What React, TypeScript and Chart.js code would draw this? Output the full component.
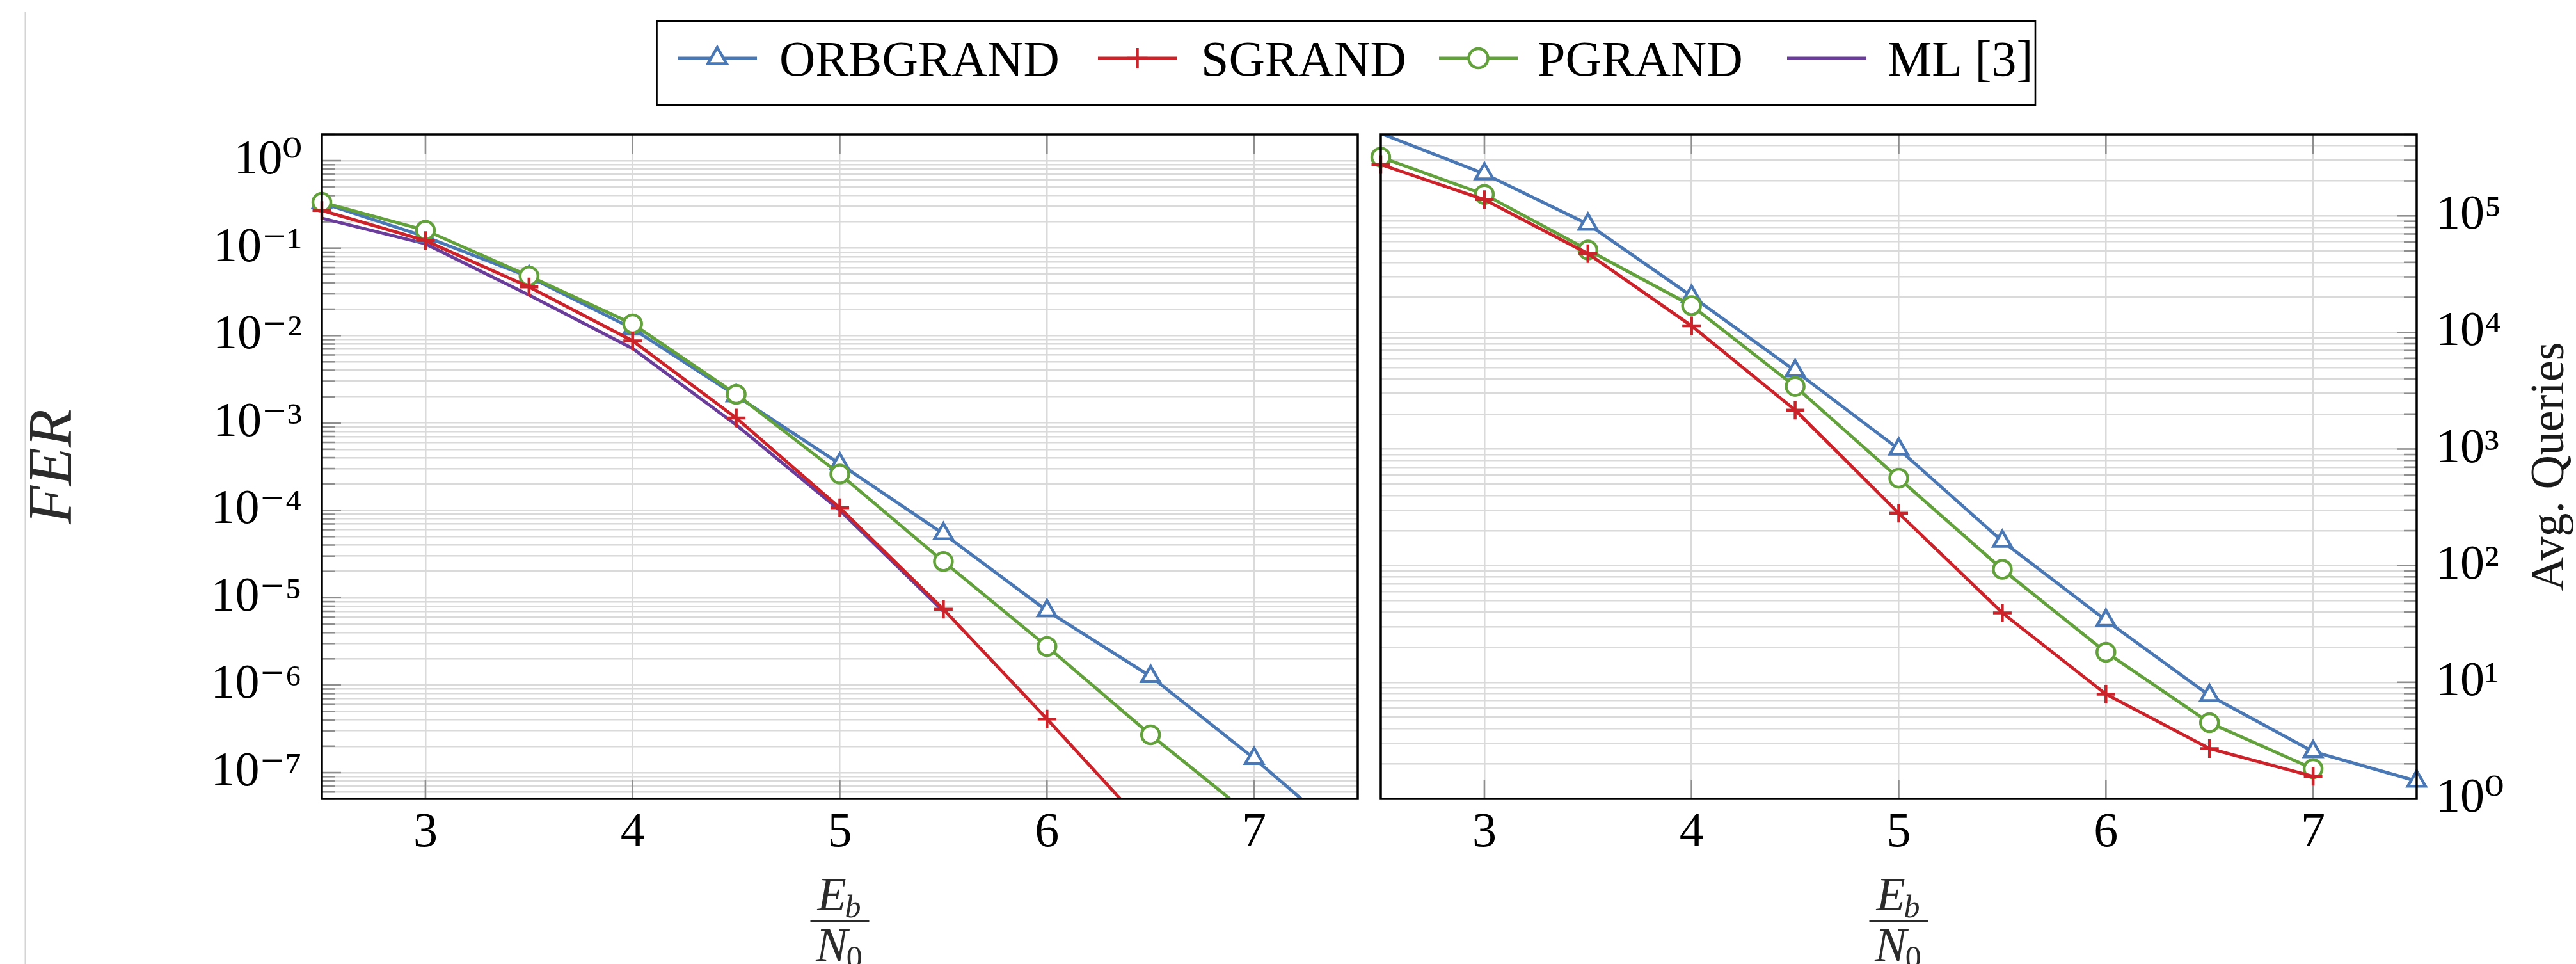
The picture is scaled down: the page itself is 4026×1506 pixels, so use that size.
import React, { useEffect, useRef } from 'react';
import { Chart, registerables } from 'chart.js';

Chart.register(...registerables);

// ---------------- data ----------------
const EBN0 = [2.5, 3, 3.5, 4, 4.5, 5, 5.5, 6, 6.5, 7, 7.5];
const X_TICKS = [3, 4, 5, 6, 7];

const FER_ORBGRAND = [0.33, 0.135, 0.047, 0.012, 2.05e-3, 3.4e-4, 5.4e-5, 7.1e-6, 1.26e-6, 1.45e-7, 1.4e-8];
const FER_SGRAND = [0.27, 0.122, 0.036, 0.0087, 1.14e-3, 1.07e-4, 7.4e-6, 4.1e-7, 2.1e-8];
const FER_PGRAND = [0.335, 0.16, 0.048, 0.0136, 2.13e-3, 2.6e-4, 2.6e-5, 2.77e-6, 2.7e-7, 3.0e-8];
const FER_ML = [0.22, 0.112, 0.029, 0.0071, 9.5e-4, 1.0e-4, 7.0e-6];

const QUERIES_ORBGRAND = [5.1e5, 2.3e5, 8.5e4, 2.05e4, 4.7e3, 1.0e3, 162, 34, 7.7, 2.54, 1.42];
const QUERIES_SGRAND = [2.76e5, 1.38e5, 4.75e4, 1.14e4, 2.16e3, 282, 39.4, 7.9, 2.7, 1.56];
const QUERIES_PGRAND = [3.19e5, 1.53e5, 5.1e4, 1.7e4, 3.45e3, 563, 93, 18.1, 4.5, 1.81];

const FER_RANGE = [5e-8, 2];
const QUERIES_RANGE = [1, 5e5];
const X_RANGE = [2.5, 7.5];

const SERIES_NAMES = ['ORBGRAND', 'SGRAND', 'PGRAND', 'ML [3]'];
const X_TITLE_MAIN = 'E';
const X_TITLE_SUB = 'b';
const X_TITLE_DEN = 'N';
const X_TITLE_DEN_SUB = '0';
const Y_TITLE_LEFT = 'FER';
const Y_TITLE_RIGHT = 'Avg. Queries';

// ---------------- styles ----------------
const BLUE = '#4a78b5';
const RED = '#cc2229';
const GREEN = '#62a13b';
const PURPLE = '#6a3d9a';
const GRID = '#dadada';
const TICK = '#8e8e8e';
const SERIF = '"Liberation Serif", "DejaVu Serif", serif';

const W = 4026;
const H = 1506;

const SUP: Record<string, string> = {
  '0': '⁰', '1': '¹', '2': '²', '3': '³', '4': '⁴', '5': '⁵', '6': '⁶', '7': '⁷', '8': '⁸', '9': '⁹', '-': '⁻',
};
const powLabel = (e: number) => '10' + String(e).split('').map((c) => SUP[c]).join('');
const isMajor = (v: number) => {
  const e = Math.log10(v);
  return Math.abs(e - Math.round(e)) < 1e-6;
};

function logTicks(min: number, max: number) {
  const out: { value: number }[] = [];
  for (let k = Math.floor(Math.log10(min)) - 1; k <= Math.ceil(Math.log10(max)); k++) {
    for (let m = 1; m <= 9; m++) {
      const v = m * Math.pow(10, k);
      if (v >= min * 0.999999 && v <= max * 1.000001) out.push({ value: v });
    }
  }
  return out;
}

function makeDataset(label: string, ys: number[], color: string, pointStyle: any, radius: number, range: number[], order: number) {
  const r = (ctx: any) => {
    const v = ctx.raw && ctx.raw.y;
    return v >= range[0] * 0.999 && v <= range[1] * 1.001 ? radius : 0;
  };
  return {
    label,
    data: ys.map((y, i) => ({ x: EBN0[i], y })),
    borderColor: color,
    backgroundColor: color,
    pointBackgroundColor: '#ffffff',
    pointBorderColor: color,
    pointStyle,
    pointBorderWidth: 4.5,
    pointRadius: r,
    pointHoverRadius: r,
    borderWidth: 5,
    tension: 0,
    fill: false,
    clip: { left: 40, right: 40, top: 0, bottom: 0 },
    order,
  };
}

function drawFraction(ctx: CanvasRenderingContext2D, cx: number, bottom: number) {
  ctx.save();
  ctx.fillStyle = '#2b2b2b';
  ctx.textBaseline = 'alphabetic';
  ctx.textAlign = 'left';
  const big = `italic 74px ${SERIF}`;
  const small = `italic 50px ${SERIF}`;
  const smallUp = `50px ${SERIF}`;
  ctx.font = big;
  const wE = ctx.measureText(X_TITLE_MAIN).width;
  const wN = ctx.measureText(X_TITLE_DEN).width;
  ctx.font = small;
  const wb = ctx.measureText(X_TITLE_SUB).width;
  ctx.font = smallUp;
  const w0 = ctx.measureText(X_TITLE_DEN_SUB).width;
  const x1 = cx - (wE + wb) / 2;
  ctx.font = big;
  ctx.fillText(X_TITLE_MAIN, x1, bottom + 174);
  ctx.font = small;
  ctx.fillText(X_TITLE_SUB, x1 + wE - 2, bottom + 185);
  ctx.fillRect(cx - 46, bottom + 189, 92, 4);
  const x2 = cx - (wN + w0) / 2;
  ctx.font = big;
  ctx.fillText(X_TITLE_DEN, x2, bottom + 253);
  ctx.font = smallUp;
  ctx.fillText(X_TITLE_DEN_SUB, x2 + wN - 2, bottom + 264);
  ctx.restore();
}

function framePlugin(side: 'left' | 'right') {
  return {
    id: 'frame_' + side,
    beforeDatasetsDraw(chart: any) {
      const { ctx, chartArea } = chart;
      const { left, right, top, bottom } = chartArea;
      const ys = chart.scales.y;
      const xs = chart.scales.x;
      ctx.save();
      ctx.strokeStyle = TICK;
      ctx.lineWidth = 2.5;
      ctx.beginPath();
      ys.ticks.forEach((t: any) => {
        const y = ys.getPixelForValue(t.value);
        if (y < top - 1 || y > bottom + 1) return;
        const len = isMajor(t.value) ? 30 : 20;
        if (side === 'left') {
          ctx.moveTo(left, y);
          ctx.lineTo(left + len, y);
        } else {
          ctx.moveTo(right, y);
          ctx.lineTo(right - len, y);
        }
      });
      xs.ticks.forEach((t: any) => {
        const x = xs.getPixelForValue(t.value);
        ctx.moveTo(x, bottom);
        ctx.lineTo(x, bottom - 30);
        ctx.moveTo(x, top);
        ctx.lineTo(x, top + 30);
      });
      ctx.stroke();
      ctx.restore();
    },
    afterDatasetsDraw(chart: any) {
      const { ctx, chartArea } = chart;
      ctx.save();
      ctx.strokeStyle = '#000';
      ctx.lineWidth = 3.5;
      ctx.strokeRect(chartArea.left, chartArea.top, chartArea.right - chartArea.left, chartArea.bottom - chartArea.top);
      ctx.restore();
    },
    afterDraw(chart: any) {
      const { ctx, chartArea } = chart;
      drawFraction(ctx, (chartArea.left + chartArea.right) / 2, chartArea.bottom);
      if (side === 'right') {
        ctx.save();
        ctx.fillStyle = '#1a1a1a';
        ctx.font = `74px ${SERIF}`;
        ctx.textAlign = 'center';
        ctx.textBaseline = 'alphabetic';
        ctx.translate(4006, (chartArea.top + chartArea.bottom) / 2);
        ctx.rotate(-Math.PI / 2);
        ctx.fillText(Y_TITLE_RIGHT, 0, 0);
        ctx.restore();
      }
    },
  };
}

function drawMarker(ctx: CanvasRenderingContext2D, style: string, x: number, y: number, r: number, color: string) {
  ctx.save();
  ctx.strokeStyle = color;
  ctx.fillStyle = '#fff';
  ctx.lineWidth = 4.5;
  ctx.beginPath();
  if (style === 'triangle') {
    for (let i = 0; i < 3; i++) {
      const a = (i * 2 * Math.PI) / 3;
      const px = x + Math.sin(a) * r;
      const py = y - Math.cos(a) * r;
      if (i === 0) ctx.moveTo(px, py);
      else ctx.lineTo(px, py);
    }
    ctx.closePath();
    ctx.fill();
    ctx.stroke();
  } else if (style === 'circle') {
    ctx.arc(x, y, r, 0, Math.PI * 2);
    ctx.fill();
    ctx.stroke();
  } else if (style === 'cross') {
    ctx.moveTo(x - r, y);
    ctx.lineTo(x + r, y);
    ctx.moveTo(x, y - r);
    ctx.lineTo(x, y + r);
    ctx.stroke();
  }
  ctx.restore();
}

const legendPlugin = {
  id: 'pgfLegend',
  afterDraw(chart: any) {
    const ctx: CanvasRenderingContext2D = chart.ctx;
    ctx.save();
    // faint page rule on the far left
    ctx.fillStyle = '#d4d4d4';
    ctx.fillRect(38.5, 19, 1.5, H - 19);
    // legend box
    ctx.strokeStyle = '#000';
    ctx.lineWidth = 2.6;
    ctx.strokeRect(1026.5, 33, 2154.5, 131);
    const items = [
      { name: SERIES_NAMES[0], color: BLUE, style: 'triangle', r: 17, x0: 1059, x1: 1183, tx: 1218 },
      { name: SERIES_NAMES[1], color: RED, style: 'cross', r: 16, x0: 1716, x1: 1839, tx: 1877 },
      { name: SERIES_NAMES[2], color: GREEN, style: 'circle', r: 15, x0: 2249, x1: 2372, tx: 2403 },
      { name: SERIES_NAMES[3], color: PURPLE, style: 'none', r: 0, x0: 2793, x1: 2917, tx: 2950 },
    ];
    const ly = 91;
    items.forEach((it) => {
      ctx.strokeStyle = it.color;
      ctx.lineWidth = 5;
      ctx.beginPath();
      ctx.moveTo(it.x0, ly);
      ctx.lineTo(it.x1, ly);
      ctx.stroke();
      if (it.style !== 'none') drawMarker(ctx, it.style, (it.x0 + it.x1) / 2, ly, it.r, it.color);
      ctx.fillStyle = '#000';
      ctx.font = `78px ${SERIF}`;
      ctx.textAlign = 'left';
      ctx.textBaseline = 'alphabetic';
      ctx.fillText(it.name, it.tx, 118);
    });
    ctx.restore();
  },
};

function xScale(afterFitHeight: number) {
  return {
    type: 'linear',
    position: 'bottom',
    min: X_RANGE[0],
    max: X_RANGE[1],
    afterBuildTicks: (s: any) => {
      s.ticks = X_TICKS.map((v) => ({ value: v }));
    },
    afterFit: (s: any) => {
      s.height = afterFitHeight;
    },
    grid: { color: GRID, lineWidth: 2.5, drawTicks: false },
    border: { display: false },
    ticks: { font: { family: SERIF, size: 76 }, color: '#000', padding: 8, maxRotation: 0, autoSkip: false },
  };
}

function yScale(range: number[], position: 'left' | 'right', width: number, padding: number, title?: any) {
  return {
    type: 'logarithmic',
    position,
    min: range[0],
    max: range[1],
    afterBuildTicks: (s: any) => {
      s.ticks = logTicks(range[0], range[1]);
    },
    afterFit: (s: any) => {
      s.width = width;
    },
    grid: { color: GRID, lineWidth: 2.5, drawTicks: false },
    border: { display: false },
    ticks: {
      autoSkip: false,
      padding,
      font: { family: SERIF, size: 76 },
      color: '#000',
      callback: (v: any) => (isMajor(Number(v)) ? powLabel(Math.round(Math.log10(Number(v)))) : ''),
    },
    title: title || { display: false },
  };
}

export default function App() {
  const refA = useRef<HTMLCanvasElement>(null);
  const refB = useRef<HTMLCanvasElement>(null);

  useEffect(() => {
    const common = {
      animation: false,
      responsive: false,
      maintainAspectRatio: false,
      devicePixelRatio: 1,
      events: [],
      plugins: { legend: { display: false }, tooltip: { enabled: false } },
    };

    const chartA = new Chart(refA.current as HTMLCanvasElement, {
      type: 'line',
      data: {
        datasets: [
          makeDataset(SERIES_NAMES[1], FER_SGRAND, RED, 'cross', 14.5, FER_RANGE, 0),
          makeDataset(SERIES_NAMES[2], FER_PGRAND, GREEN, 'circle', 14, FER_RANGE, 1),
          makeDataset(SERIES_NAMES[0], FER_ORBGRAND, BLUE, 'triangle', 16, FER_RANGE, 2),
          { ...makeDataset(SERIES_NAMES[3], FER_ML, PURPLE, 'circle', 0, FER_RANGE, 3), pointRadius: 0, pointHoverRadius: 0 },
        ] as any,
      },
      options: {
        ...common,
        layout: { padding: { left: 16, top: 210, right: W - 2122, bottom: 0 } },
        scales: {
          x: xScale(H - 1248),
          y: yScale(FER_RANGE, 'left', 487, 31, {
            display: true,
            text: Y_TITLE_LEFT,
            color: '#2b2b2b',
            font: { family: SERIF, size: 98, style: 'italic' },
            padding: { top: 10, bottom: 0 },
          }),
        },
      } as any,
      plugins: [framePlugin('left'), legendPlugin] as any,
    });

    const chartB = new Chart(refB.current as HTMLCanvasElement, {
      type: 'line',
      data: {
        datasets: [
          makeDataset(SERIES_NAMES[1], QUERIES_SGRAND, RED, 'cross', 14.5, QUERIES_RANGE, 0),
          makeDataset(SERIES_NAMES[2], QUERIES_PGRAND, GREEN, 'circle', 14, QUERIES_RANGE, 1),
          makeDataset(SERIES_NAMES[0], QUERIES_ORBGRAND, BLUE, 'triangle', 16, QUERIES_RANGE, 2),
        ] as any,
      },
      options: {
        ...common,
        layout: { padding: { left: 2158, top: 210, right: 0, bottom: 0 } },
        scales: {
          x: xScale(H - 1248),
          y: yScale(QUERIES_RANGE, 'right', W - 3777, 30),
        },
      } as any,
      plugins: [framePlugin('right')] as any,
    });

    return () => {
      chartA.destroy();
      chartB.destroy();
    };
  }, []);

  const cStyle: React.CSSProperties = { position: 'absolute', left: 0, top: 0, width: W, height: H };
  return (
    <div style={{ position: 'absolute', left: 0, top: 0, width: W, height: H, background: '#fff', overflow: 'hidden' }}>
      <canvas ref={refA} width={W} height={H} style={cStyle} />
      <canvas ref={refB} width={W} height={H} style={cStyle} />
    </div>
  );
}
